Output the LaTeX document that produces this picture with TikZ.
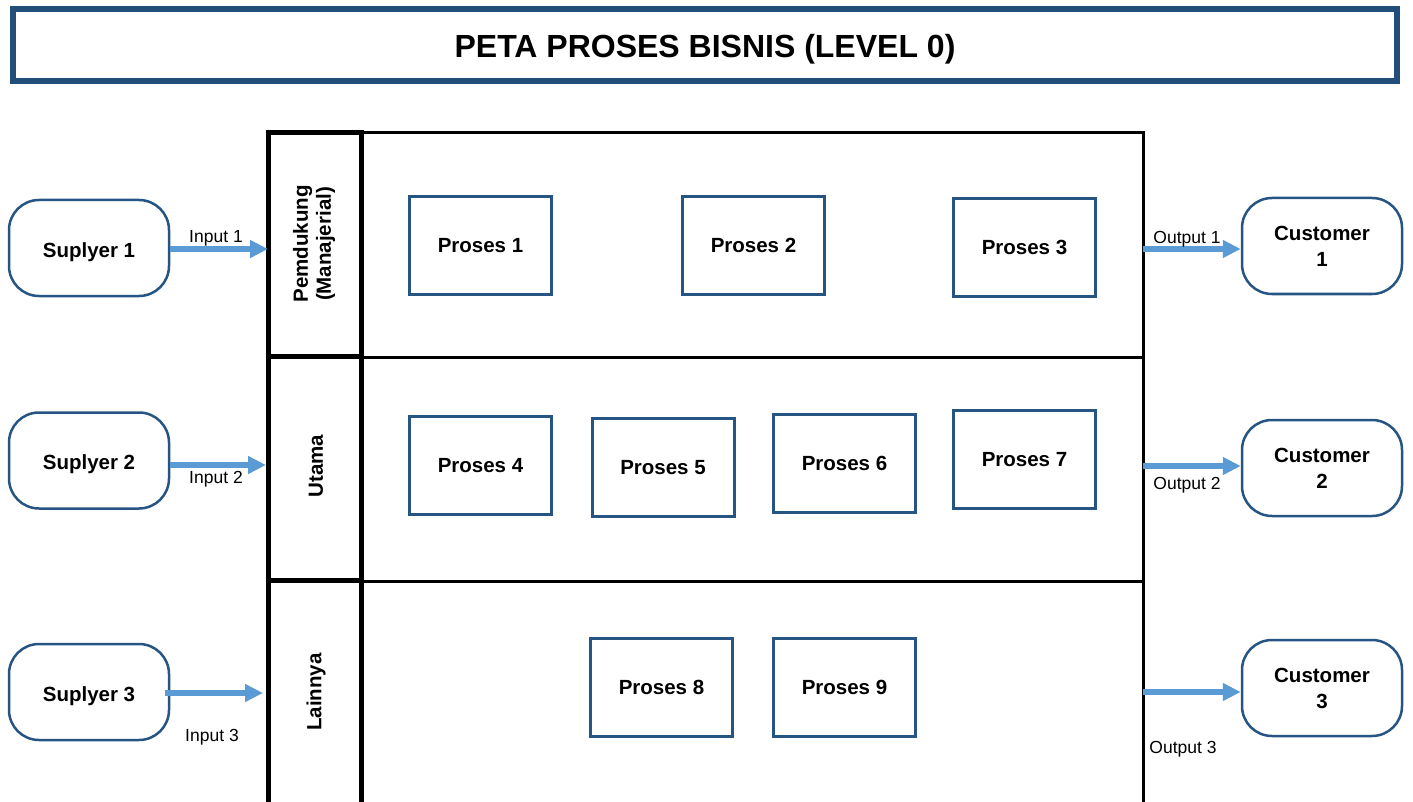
\documentclass[tikz,border=0pt]{standalone}
\usepackage{fontspec}
\setmainfont{Liberation Sans}
\usetikzlibrary{arrows.meta}
\definecolor{titleblue}{RGB}{33,79,122}
\definecolor{boxblue}{RGB}{38,85,131}
\definecolor{arrowblue}{RGB}{91,155,213}
\begin{document}
\begin{tikzpicture}[x=1pt,y=-1pt,
 procbox/.style={draw=boxblue,line width=3pt,minimum width=142pt,minimum height=98pt,inner sep=0pt,font=\fontsize{20.5}{24}\selectfont\bfseries},
 endbox/.style={draw=boxblue,line width=2.5pt,rounded corners=30pt,minimum width=160pt,minimum height=96pt,inner sep=0pt,align=center,font=\fontsize{20.5}{26}\selectfont\bfseries},
 supbox/.style={endbox,text depth=0pt,text height=18.7pt},
 flow/.style={draw=arrowblue,line width=5.5pt,-{Triangle[length=18pt,width=17pt]}},
 flowlabel/.style={font=\fontsize{17.5}{20}\selectfont,inner sep=0pt,text depth=0pt},
 lanetitle/.style={rotate=90,align=center,inner sep=0pt,font=\fontsize{20.5}{23}\selectfont\bfseries},
 heavy/.style={line width=4.5pt},
 thin/.style={line width=3pt},
]
\useasboundingbox (0,0) rectangle (1413,802);
% title
\node[draw=titleblue,line width=6pt,minimum width=1384pt,minimum height=72pt,inner sep=0pt,text depth=0pt,text height=25.9pt,font=\fontsize{32}{36}\selectfont\bfseries] (title) at (705,45) {PETA PROSES BISNIS (LEVEL 0)};
% swimlane frame
\draw[heavy] (268.5,802) -- (268.5,132.5) -- (361.5,132.5) -- (361.5,802);
\draw[thin] (361.5,133) -- (1143,133) -- (1143,802);
\draw[line width=5pt] (268.5,356) -- (361.5,356);
\draw[thin] (361.5,357) -- (1143,357);
\draw[line width=5pt] (268.5,580) -- (361.5,580);
\draw[thin] (361.5,581) -- (1143,581);
% lane titles
\node[lanetitle] (lane1) at (314,244) {Pemdukung\\(Manajerial)};
\node[lanetitle] (lane2) at (316,466) {Utama};
\node[lanetitle] (lane3) at (316,692) {Lainnya};
% processes
\node[procbox] (p1) at (480.5,245.5) {Proses 1};
\node[procbox] (p2) at (753.5,245.5) {Proses 2};
\node[procbox] (p3) at (1024.5,247.5) {Proses 3};
\node[procbox] (p4) at (480.5,465.5) {Proses 4};
\node[procbox] (p5) at (663,467.5) {Proses 5};
\node[procbox] (p6) at (844.5,463.5) {Proses 6};
\node[procbox] (p7) at (1024.5,459.5) {Proses 7};
\node[procbox] (p8) at (661.5,687.5) {Proses 8};
\node[procbox] (p9) at (844.5,687.5) {Proses 9};
% suppliers and customers
\node[supbox] (s1) at (89,248) {Suplyer 1};
\node[supbox] (s2) at (89,460.5) {Suplyer 2};
\node[supbox] (s3) at (89,692) {Suplyer 3};
\node[endbox] (c1) at (1322,246) {Customer\\1};
\node[endbox] (c2) at (1322,468) {Customer\\2};
\node[endbox] (c3) at (1322,688) {Customer\\3};
% arrow end points
\coordinate (in1) at (268,249);
\coordinate (in2) at (266,465);
\coordinate (in3) at (263,693);
\coordinate (out1) at (1143,249);
\coordinate (out2) at (1143,466);
\coordinate (out3) at (1143,692);
\coordinate (s3start) at (165,693);
% flows
\draw[flow] (s1.east |- in1) -- (in1);
\draw[flow] (s2.east |- in2) -- (in2);
\draw[flow] (s3start) -- (in3);
\draw[flow] (out1) -- (c1.west |- out1);
\draw[flow] (out2) -- (c2.west |- out2);
\draw[flow] (out3) -- (c3.west |- out3);
% flow labels
\node[flowlabel] (l1) at (216,236) {Input 1};
\node[flowlabel] (l2) at (216,477) {Input 2};
\node[flowlabel] (l3) at (212,735) {Input 3};
\node[flowlabel] (o1) at (1187,237) {Output 1};
\node[flowlabel] (o2) at (1187,483) {Output 2};
\node[flowlabel] (o3) at (1183,747) {Output 3};
\end{tikzpicture}
\end{document}
